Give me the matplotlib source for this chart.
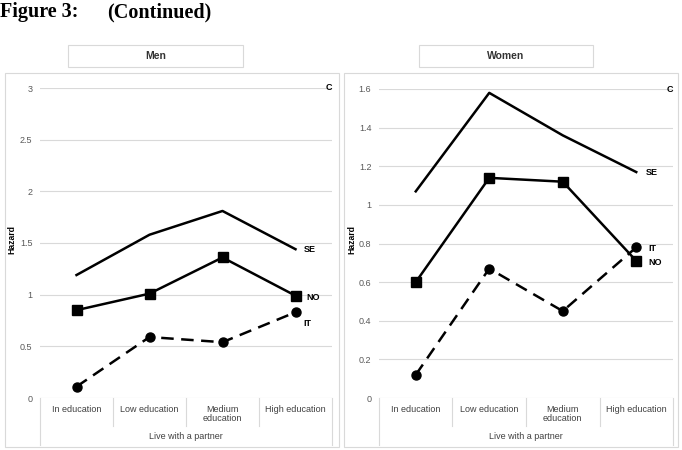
import matplotlib.pyplot as plt
import matplotlib.patches as mpatches

W, H = 682, 450

categories = ["In education", "Low education", "Medium\neducation", "High education"]
group_label = "Live with a partner"

men_se = [1.19, 1.58, 1.81, 1.44]
men_no = [0.85, 1.01, 1.36, 0.99]
men_it = [0.11, 0.59, 0.54, 0.83]
men_yticks = [0, 0.5, 1, 1.5, 2, 2.5, 3]
men_yticklabels = ["0", "0.5", "1", "1.5", "2", "2.5", "3"]

women_se = [1.07, 1.58, 1.36, 1.17]
women_no = [0.60, 1.14, 1.12, 0.71]
women_it = [0.12, 0.67, 0.45, 0.78]
women_yticks = [0, 0.2, 0.4, 0.6, 0.8, 1.0, 1.2, 1.4, 1.6]
women_yticklabels = ["0", "0.2", "0.4", "0.6", "0.8", "1", "1.2", "1.4", "1.6"]

plt.rcParams['font.family'] = ['Liberation Sans', 'DejaVu Sans']

fig = plt.figure(figsize=(W / 100, H / 100), dpi=100)


def fx(px):
    return px / W


def fy(py):
    return 1 - py / H


def box(x0, y0, x1, y1):
    r = mpatches.Rectangle((fx(x0), fy(y1)), fx(x1) - fx(x0), fy(y0) - fy(y1),
                           transform=fig.transFigure, fill=False,
                           edgecolor="#d9d9d9", linewidth=0.8)
    fig.patches.append(r)


fig.text(fx(0), fy(17), "Figure 3:", family="Liberation Serif",
         fontweight="bold", fontsize=14.5, va="baseline")
fig.text(fx(107), fy(17), "(Continued)", family="Liberation Serif",
         fontweight="bold", fontsize=14.5, va="baseline")


def panel(title, box_x, title_box, ax_px, ymax, yticks, yticklabels,
          se, no, it, lab_pos, hazard_x):
    box(box_x[0], 73, box_x[1], 447)
    box(title_box[0], 45, title_box[1], 67)
    fig.text(fx((title_box[0] + title_box[1]) / 2), fy(56), title,
             ha="center", va="center", fontsize=7.5, fontweight="bold",
             color="#333333")
    l, r, t, b = ax_px
    ax = fig.add_axes([fx(l), fy(b), fx(r) - fx(l), fy(t) - fy(b)])
    ax.set_xlim(-0.5, 3.5)
    ax.set_ylim(0, ymax)
    for s in ax.spines.values():
        s.set_visible(False)
    ax.set_yticks(yticks)
    ax.set_yticklabels(yticklabels)
    ax.tick_params(axis="y", length=0, pad=5.5, labelsize=6.5, labelcolor="#595959")
    ax.set_xticks([])
    ax.grid(axis="y", color="#d9d9d9", linewidth=0.8)
    ax.set_axisbelow(True)
    fig.text(fx(hazard_x), fy(240), "Hazard", rotation=90, ha="center",
             va="center", fontsize=6.2, fontweight="bold")

    x = list(range(len(categories)))
    ax.plot(x, se, color="black", linewidth=1.8, clip_on=False)
    ax.plot(x, no, color="black", linewidth=1.8, marker="s", markersize=7,
            clip_on=False)
    ax.plot(x, it, color="black", linewidth=1.8, linestyle=(0, (5, 3)),
            marker="o", markersize=6.5, clip_on=False)

    for name, (yv, dx, dy) in lab_pos.items():
        ax.annotate(name, (3, yv), xytext=(dx, dy), textcoords="offset points",
                    fontsize=6.5, fontweight="bold", va="center", ha="left")

    ax.text(1.0, 1.0, "C", transform=ax.transAxes, ha="right", va="center",
            fontsize=6.5, fontweight="bold")

    hpx = b - t
    # category table beneath the plot
    for i in range(len(categories) + 1):
        xb = i - 0.5
        low = -47 / hpx if i in (0, len(categories)) else -28 / hpx
        ax.plot([xb, xb], [0, low], transform=ax.get_xaxis_transform(),
                color="#d9d9d9", linewidth=0.8, clip_on=False)
    for i, c in enumerate(categories):
        ax.text(i, -7 / hpx, c, transform=ax.get_xaxis_transform(),
                ha="center", va="top", fontsize=6.5, color="#404040",
                linespacing=1.0)
    ax.text(1.5, -34 / hpx, group_label, transform=ax.get_xaxis_transform(),
            ha="center", va="top", fontsize=6.5, color="#404040")
    return ax


panel("Men", (5, 339), (68, 243), (40, 332, 88, 398), 3,
      men_yticks, men_yticklabels, men_se, men_no, men_it,
      {"SE": (men_se[3], 6, 0), "NO": (men_no[3], 8, -1), "IT": (men_it[3], 6, -8)},
      12)
panel("Women", (344, 678), (419, 593), (379, 673, 89, 398), 1.6,
      women_yticks, women_yticklabels, women_se, women_no, women_it,
      {"SE": (women_se[3], 7, 0), "NO": (women_no[3], 8.5, -1), "IT": (women_it[3], 8.5, -1)},
      352)

fig.savefig("out.png", dpi=100)
